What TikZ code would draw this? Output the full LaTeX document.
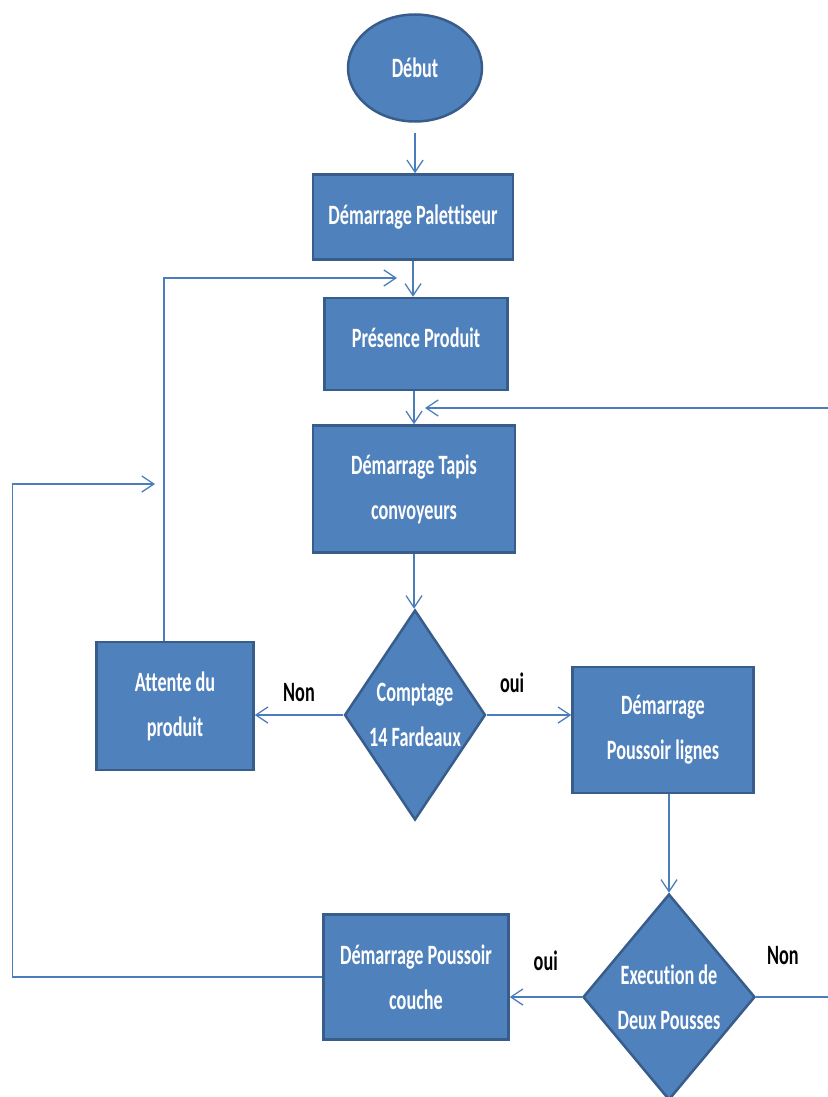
\documentclass[tikz,border=0pt]{standalone}
\usepackage{fontspec}
\newfontfamily\flowfont{Carlito}[FakeStretch=0.65, Ligatures=NoCommon]
\usetikzlibrary{shapes.geometric}
\usetikzlibrary{arrows.meta}

\definecolor{boxblue}{HTML}{4F81BD}
\definecolor{boxedge}{HTML}{385D8A}
\definecolor{lineblue}{HTML}{4A7EBB}

\begin{document}
\begin{tikzpicture}[x=1pt, y=-1pt,
	every node/.style={font=\flowfont\bfseries\fontsize{28}{45}\selectfont},
	bloc/.style={rectangle, draw=boxedge, line width=2.5pt, fill=boxblue, text=white, align=center, inner sep=0pt},
	test/.style={diamond, draw=boxedge, line width=2.5pt, fill=boxblue, inner sep=0pt, label={[text=white, align=center]center:#1}},
	lien/.style={draw=lineblue, line width=1.3pt, -{Straight Barb[length=12pt, width=16pt]}},
	rep/.style={text=black, inner sep=2pt}]
	\useasboundingbox (0,0) rectangle (827,1097);

		\node [ellipse, draw=boxedge, line width=2.5pt, fill=boxblue, text=white, minimum width=134pt, minimum height=107pt] (debut) at (415,68) {Début};
		\node [bloc, minimum width=200pt, minimum height=85pt] (palet) at (413,217) {Démarrage Palettiseur};
		\node [bloc, minimum width=183pt, minimum height=92pt, text depth=12pt] (presence) at (416,344) {Présence Produit};
		\node [bloc, minimum width=202pt, minimum height=127pt] (tapis) at (414,489) {Démarrage Tapis\\convoyeurs};
		\node [test={Comptage\\14 Fardeaux}, minimum width=141pt, minimum height=210pt] (comptage) at (415,715) {};
		\node [bloc, minimum width=157pt, minimum height=128pt] (attente) at (175,706) {Attente du\\produit};
		\node [bloc, minimum width=181pt, minimum height=126pt] (lignes) at (663,730) {Démarrage\\Poussoir lignes};
		\node [test={Execution de\\Deux Pousses}, minimum width=172pt, minimum height=206pt] (execution) at (669,997) {};
		\node [bloc, minimum width=185pt, minimum height=125pt] (couche) at (416,977) {Démarrage Poussoir\\couche};

		\coordinate (entreeA) at (397,278);
		\coordinate (entreeB) at (155,484);
		\coordinate (retour) at (425,408);

		\draw [lien, shorten <=10pt] (debut.south) -- (debut.south |- palet.north);
		\draw [lien] (palet.south) -- (palet.south |- presence.north);
		\draw [lien] (tapis.north |- presence.south) -- (tapis.north);
		\draw [lien] (tapis.south) -- (tapis.south |- comptage.north);
		\draw [lien] (comptage.west) -- (comptage.west -| attente.east)
			node [rep, midway, above=11pt] {Non};
		\draw [lien] (comptage.east) -- (comptage.east -| lignes.west)
			node [rep, pos=0.3, above=20pt] {oui};
		\draw [lien] (lignes.south -| execution.north) -- (execution.north);
		\draw [lien] (execution.west) -- (execution.west -| couche.east)
			node [rep, midway, above=24pt] {oui};
		\draw [lien] (execution.east) -- ++(86,0)
			node [rep, pos=0.31, above=30pt] {Non} |- (retour);
		\draw [lien] ([xshift=-11pt]attente.north) |- (entreeA);
		\draw [lien] (couche.west) -- ++(-310,0) |- (entreeB);
	\end{tikzpicture}
\end{document}
